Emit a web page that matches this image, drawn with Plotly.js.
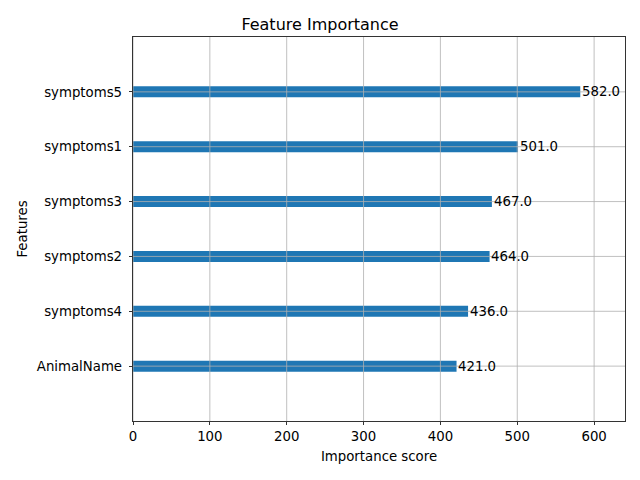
<!DOCTYPE html>
<html>
<head>
<meta charset="utf-8">
<script src="https://cdn.plot.ly/plotly-3.0.1.min.js"></script>
<style>html,body{margin:0;padding:0;background:#fff}#chart{width:640px;height:480px}</style>
</head>
<body>
<div id="chart"></div>
<script>
const features = ["AnimalName", "symptoms4", "symptoms2", "symptoms3", "symptoms1", "symptoms5"];
const scores = [421, 436, 464, 467, 501, 582];
const xTicks = [0, 100, 200, 300, 400, 500, 600];

const positions = features.map((_, i) => i);
const font = "DejaVu Sans, sans-serif";

const shapes = [];
xTicks.forEach(v => shapes.push({type: "line", xref: "x", yref: "paper", x0: v, x1: v, y0: 0, y1: 1,
  line: {color: "#b0b0b0", width: 0.8}, layer: "above"}));
positions.forEach(v => shapes.push({type: "line", xref: "paper", yref: "y", x0: 0, x1: 1, y0: v, y1: v,
  line: {color: "#b0b0b0", width: 0.8}, layer: "above"}));

const annotations = scores.map((s, i) => ({
  x: s + 1, y: positions[i], xref: "x", yref: "y",
  text: s.toFixed(1), showarrow: false,
  xanchor: "left", yanchor: "middle", borderpad: 0,
  font: {family: font, size: 13.3, color: "#000"}
}));

const trace = {
  type: "bar",
  orientation: "h",
  x: scores,
  y: positions,
  width: 0.2,
  marker: {color: "#1f77b4"},
  hoverinfo: "none"
};

const layout = {
  width: 640, height: 480,
  margin: {l: 133, r: 15, t: 37, b: 59},
  paper_bgcolor: "#fff", plot_bgcolor: "#fff",
  showlegend: false,
  font: {family: font, size: 13.3, color: "#000"},
  title: {text: "Feature Importance", font: {family: font, size: 16, color: "#000"}, x: 0.5, xanchor: "center", y: 0.95, yanchor: "middle"},
  xaxis: {
    range: [0, Math.max(...scores) * 1.1],
    tickvals: xTicks, ticktext: xTicks.map(String),
    showgrid: false, zeroline: false,
    showline: true, linecolor: "#000", linewidth: 0.8, mirror: true,
    ticks: "outside", ticklen: 3.5, tickwidth: 0.8, tickcolor: "#000",
    tickfont: {family: font, size: 13.3, color: "#000"},
    title: {text: "Importance score", font: {family: font, size: 13.3, color: "#000"}, standoff: 8}
  },
  yaxis: {
    range: [-1, 6],
    tickvals: positions, ticktext: features,
    showgrid: false, zeroline: false,
    showline: true, linecolor: "#000", linewidth: 0.8, mirror: true,
    ticks: "outside", ticklen: 3.5, tickwidth: 0.8, tickcolor: "#000",
    ticklabelstandoff: 4,
    tickfont: {family: font, size: 13.3, color: "#000"},
    title: {text: "Features", font: {family: font, size: 13.3, color: "#000"}, standoff: 6}
  },
  shapes: shapes,
  annotations: annotations
};

Plotly.newPlot("chart", [trace], layout, {displayModeBar: false, staticPlot: true});
</script>
</body>
</html>
